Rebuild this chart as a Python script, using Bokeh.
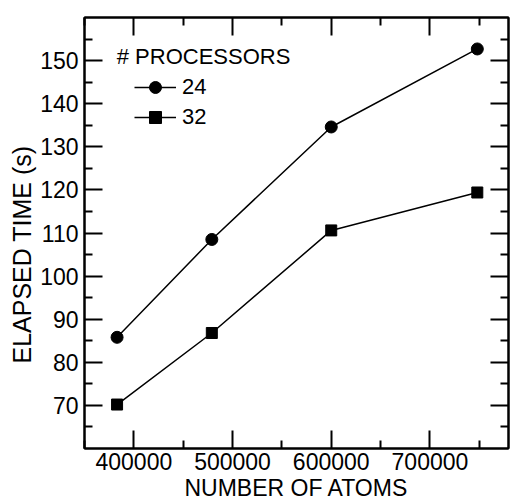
from bokeh.plotting import figure
from bokeh.models import (LinearAxis, FixedTicker, NumeralTickFormatter, Range1d,
                          Legend, LegendItem, Label, CustomLabelingPolicy, Title)
from bokeh.embed import file_html
from bokeh.resources import INLINE

# data
atoms = [383000, 479000, 600000, 748000]
time_24 = [85.8, 108.5, 134.6, 152.7]
time_32 = [70.2, 86.8, 110.6, 119.4]
series_labels = ["24", "32"]
legend_title = "# PROCESSORS"
x_title = "NUMBER OF ATOMS"
y_title = "ELAPSED TIME (s)"
x_major = [400000, 500000, 600000, 700000]
x_minor = [350000, 450000, 550000, 650000, 750000]
y_major = [70, 80, 90, 100, 110, 120, 130, 140, 150]
y_minor = [65, 75, 85, 95, 105, 115, 125, 135, 145, 155]

FONT = "Liberation Sans"

p = figure(width=513, height=504, output_backend="svg", toolbar_location=None,
           x_range=Range1d(350000, 779600), y_range=Range1d(60, 160),
           min_border_top=17, min_border_left=84, min_border_right=0, min_border_bottom=56)
p.grid.visible = False
p.outline_line_color = "black"
p.outline_line_width = 2
p.background_fill_color = "white"

def style_axis(ax, labels=True):
    ax.axis_line_width = 2
    ax.axis_line_color = "black"
    ax.major_tick_in = 18
    ax.major_tick_out = 0
    ax.minor_tick_in = 8
    ax.minor_tick_out = 0
    ax.major_tick_line_width = 2
    ax.minor_tick_line_width = 2
    ax.major_tick_line_color = "black"
    ax.minor_tick_line_color = "black"
    ax.major_label_text_font = FONT
    ax.major_label_text_font_size = "23px"
    ax.major_label_text_color = "black"
    ax.axis_label_text_font = FONT
    ax.axis_label_text_font_size = "23px"
    ax.axis_label_text_font_style = "normal"
    ax.axis_label_text_color = "black"
    if not labels:
        ax.major_label_policy = CustomLabelingPolicy(code="return new Set()")
        ax.major_label_text_font_size = "1px"
        ax.major_label_standoff = 0

xt = FixedTicker(ticks=x_major, minor_ticks=x_minor)
yt = FixedTicker(ticks=y_major, minor_ticks=y_minor)

p.xaxis.ticker = xt
p.yaxis.ticker = yt
p.xaxis.formatter = NumeralTickFormatter(format="0")
p.xaxis.axis_label = x_title
style_axis(p.xaxis[0])
style_axis(p.yaxis[0])
p.xaxis.major_label_standoff = 4
p.yaxis.major_label_standoff = 6
p.xaxis.axis_label_standoff = 2

top = LinearAxis(ticker=FixedTicker(ticks=x_major, minor_ticks=x_minor))
style_axis(top, labels=False)
p.add_layout(top, "above")
right = LinearAxis(ticker=FixedTicker(ticks=y_major, minor_ticks=y_minor))
style_axis(right, labels=False)
p.add_layout(right, "right")

# y-axis title, sitting lower than the frame centre as in the original
ytitle = Title(text=y_title, align="left", offset=85, text_font=FONT,
               text_font_size="25px", text_font_style="normal", text_color="black",
               standoff=4)
p.add_layout(ytitle, "left")

l1 = p.line(atoms, time_24, line_color="black", line_width=1.5)
m1 = p.scatter(atoms, time_24, marker="circle", size=12, fill_color="black", line_color="black")
l2 = p.line(atoms, time_32, line_color="black", line_width=1.5)
m2 = p.scatter(atoms, time_32, marker="square", size=11, fill_color="black", line_color="black")

legend = Legend(items=[LegendItem(label=series_labels[0], renderers=[l1, m1]),
                       LegendItem(label=series_labels[1], renderers=[l2, m2])],
                location=(50, 316), padding=0, margin=0, spacing=0,
                glyph_width=42, glyph_height=30, label_height=30,
                label_standoff=6, label_text_font=FONT, label_text_font_size="22px",
                label_text_color="black", border_line_color=None,
                background_fill_alpha=0)
p.add_layout(legend, "center")

title = Label(x=382700, y=151, text=legend_title, text_font=FONT, text_font_size="22px",
              text_baseline="middle", text_color="black")
p.add_layout(title)

open("out.html", "w").write(file_html(p, INLINE))
